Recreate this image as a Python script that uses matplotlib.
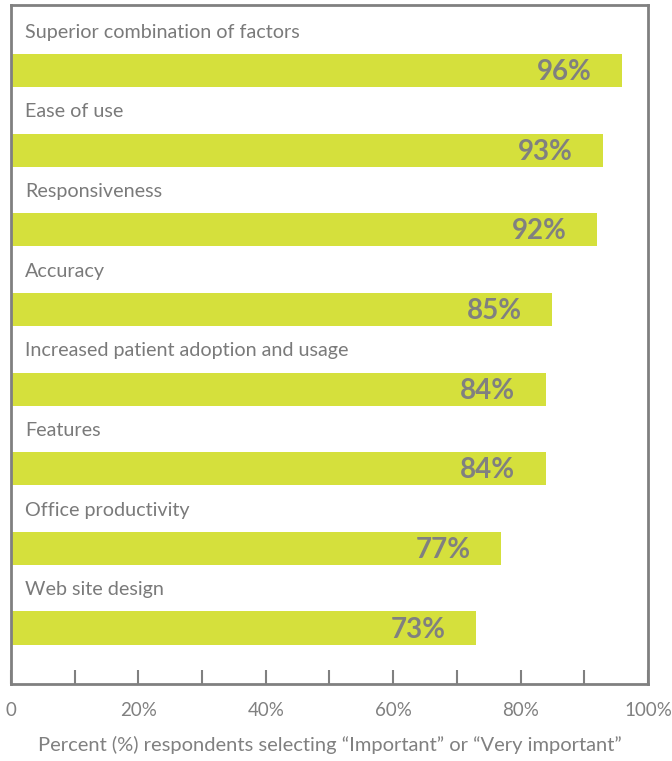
import matplotlib.pyplot as plt
from matplotlib.ticker import MultipleLocator, FixedLocator

# Факторы и доля респондентов, отметивших их как важные
factors = ['Superior combination of factors', 'Ease of use', 'Responsiveness',
           'Accuracy', 'Increased patient adoption and usage', 'Features',
           'Office productivity', 'Web site design']
percents = [96, 93, 92, 85, 84, 84, 77, 73]

tick_values = [0, 20, 40, 60, 80, 100]
tick_labels = ['0', '20%', '40%', '60%', '80%', '100%']

plt.rcParams['font.family'] = ['Lato', 'DejaVu Sans']

gray = '#808080'
bar_color = '#d5e03c'

fig = plt.figure(figsize=(6.72, 7.61), dpi=100)
ax = fig.add_axes([0.0164, 0.1012, 0.9477, 0.8922])

y = list(range(len(factors)))
ax.barh(y, percents, height=0.415, color=bar_color, zorder=2)

# Подписи факторов над столбцами и значения внутри столбцов
for i, (name, value) in enumerate(zip(factors, percents)):
    ax.text(2.2, i - 0.48, name, va='center', ha='left', fontsize=14.2, color='#7a7a7a')
    ax.text(value - 4.8, i + 0.02, f'{value}%', va='center', ha='right',
            fontsize=20, fontweight='bold', color=gray, zorder=3)

ax.set_xlim(0, 100)
ax.set_ylim(7.703, -0.823)
ax.set_yticks([])

ax.xaxis.set_major_locator(FixedLocator(tick_values))
ax.set_xticklabels(tick_labels)
ax.xaxis.set_minor_locator(MultipleLocator(10))
ax.tick_params(axis='x', which='both', direction='in', length=10, width=1.5,
               color=gray, labelcolor=gray, labelsize=13.5, pad=13)

for side in ['left', 'right', 'top', 'bottom']:
    ax.spines[side].set_color(gray)
    ax.spines[side].set_linewidth(2)

ax.set_xlabel('Percent (%) respondents selecting \u201cImportant\u201d or \u201cVery important\u201d',
              fontsize=14.5, color=gray, labelpad=12.5)

plt.savefig('out.png', dpi=100)
